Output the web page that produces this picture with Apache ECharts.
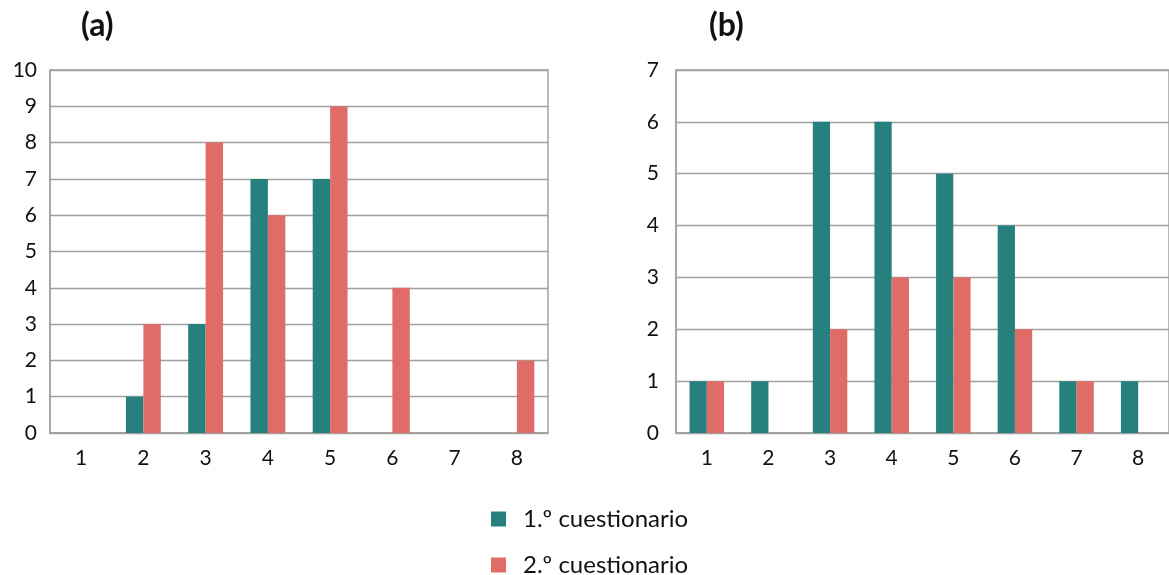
<!DOCTYPE html>
<html><head><meta charset="utf-8">
<script src="https://cdn.jsdelivr.net/npm/echarts@6/dist/echarts.min.js"></script>
<style>html,body{margin:0;padding:0;background:#fff}#c{width:1169px;height:575px}</style>
</head><body><div id="c"></div>
<script>
const categories = ['1','2','3','4','5','6','7','8'];
const seriesNames = ['1.º cuestionario','2.º cuestionario'];
const a_first  = [0,1,3,7,7,0,0,0];
const a_second = [0,3,8,6,9,4,0,2];
const b_first  = [1,1,6,6,5,4,1,1];
const b_second = [1,0,2,3,3,2,1,0];
const teal = '#25807e', coral = '#e06c68';
const font = 'Lato, "Noto Sans", sans-serif';
const chart = echarts.init(document.getElementById('c'));
const xAxisBase = (idx) => ({
  type:'category', gridIndex:idx, data:categories,
  axisLine:{lineStyle:{color:'#a0a0a0',width:1.5}}, axisTick:{show:false},
  axisLabel:{color:'#111',fontSize:21,fontFamily:font,margin:15}
});
const yAxisBase = (idx,max,margin) => ({
  type:'value', gridIndex:idx, min:0, max:max, interval:1,
  axisLine:{show:true,lineStyle:{color:'#a0a0a0',width:1.5}}, axisTick:{show:false},
  splitLine:{lineStyle:{color:'#a0a0a0',width:1.3}},
  axisLabel:{color:'#111',fontSize:21,fontFamily:font,margin:margin}
});
const bar = (name,data,color,xi) => ({
  type:'bar', name:name, data:data, xAxisIndex:xi, yAxisIndex:xi,
  itemStyle:{color:color}, barGap:'0%', barCategoryGap:'44%'
});
const legendBase = (name,top) => ({
  left:486, top:top, itemWidth:15, itemHeight:15, icon:'rect',
  data:[name], textStyle:{fontSize:24,color:'#111',fontFamily:font,padding:[0,0,0,12]}
});
chart.setOption({
  animation:false,
  textStyle:{fontFamily:font},
  title:[
    {text:'(a)', left:76, top:5, textStyle:{fontSize:32,fontWeight:'bold',color:'#111',fontFamily:font}},
    {text:'(b)', left:704, top:5, textStyle:{fontSize:32,fontWeight:'bold',color:'#111',fontFamily:font}}
  ],
  legend:[legendBase(seriesNames[0],502), legendBase(seriesNames[1],548)],
  grid:[
    {left:50, right:621, top:70, bottom:142, show:true, borderColor:'#a0a0a0', borderWidth:1.5},
    {left:676, right:-2, top:70, bottom:142, show:true, borderColor:'#a0a0a0', borderWidth:1.5}
  ],
  xAxis:[xAxisBase(0), xAxisBase(1)],
  yAxis:[yAxisBase(0,10,13), yAxisBase(1,7,17)],
  series:[
    bar(seriesNames[0],a_first,teal,0),
    bar(seriesNames[1],a_second,coral,0),
    bar(seriesNames[0],b_first,teal,1),
    bar(seriesNames[1],b_second,coral,1)
  ]
});
</script></body></html>
